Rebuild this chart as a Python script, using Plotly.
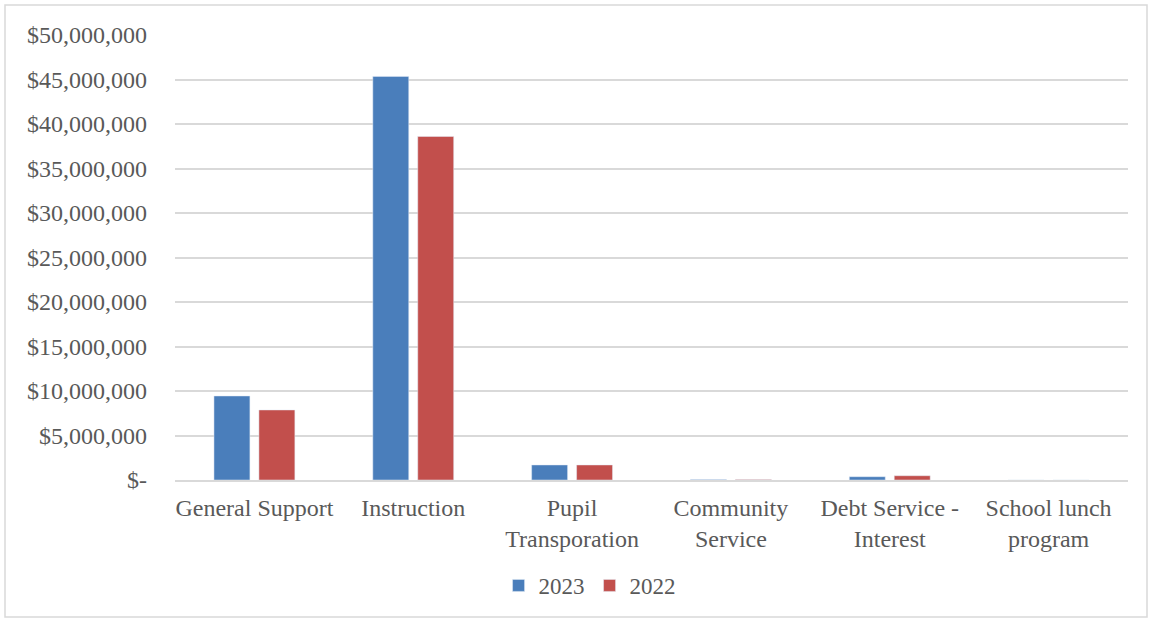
import plotly.graph_objects as go

categories = ["General Support", "Instruction", "Pupil<br>Transporation", "Community<br>Service",
              "Debt Service -<br>Interest", "School lunch<br>program"]
values_2023 = [9440000, 45350000, 1690000, 60000, 370000, 0]
values_2022 = [7870000, 38600000, 1690000, 50000, 480000, 0]
tick_vals = [0, 5e6, 10e6, 15e6, 20e6, 25e6, 30e6, 35e6, 40e6, 45e6, 50e6]
tick_text = ["$-", "$5,000,000", "$10,000,000", "$15,000,000", "$20,000,000", "$25,000,000",
             "$30,000,000", "$35,000,000", "$40,000,000", "$45,000,000", "$50,000,000"]

font = dict(family="Liberation Serif, Times New Roman, serif", size=24, color="#595959")

fig = go.Figure()
fig.add_trace(go.Bar(name="2023", x=categories, y=values_2023, marker_color="#4a7ebb"))
fig.add_trace(go.Bar(name="2022", x=categories, y=values_2022, marker_color="#c24f4c"))

L, R, T, B = 175, 21, 35, 139
W, H = 1149, 619
pw, ph = W - L - R, H - T - B

fig.update_layout(
    width=W, height=H,
    margin=dict(l=L, r=R, t=T, b=B),
    paper_bgcolor="white", plot_bgcolor="white",
    font=font,
    barmode="group", bargap=0.434, bargroupgap=0.2,
    showlegend=True,
    legend=dict(orientation="h", x=0.435, xanchor="center", y=-0.237, yanchor="middle",
                font=dict(family=font["family"], size=23, color=font["color"]),
                itemwidth=30, traceorder="normal"),
    xaxis=dict(showgrid=False, showline=True, linecolor="#d9d9d9", linewidth=1.5,
               tickfont=font, ticks="", ticklabelstandoff=5),
    yaxis=dict(range=[0, 50e6], tickvals=tick_vals, ticktext=tick_text, tickfont=font,
               showgrid=True, gridcolor="#d9d9d9", gridwidth=1.5, zeroline=False,
               showline=False, ticklabelstandoff=27),
    shapes=[dict(type="rect", xref="paper", yref="paper",
                 x0=(5 - L) / pw, x1=(1147 - L) / pw,
                 y0=(H - B - 617) / ph, y1=(H - B - 5) / ph,
                 line=dict(color="#d9d9d9", width=1.5), fillcolor="rgba(0,0,0,0)", layer="below")],
)

fig.write_html("out.html", config={"displayModeBar": False},
               post_script="document.body.style.margin='0px';document.body.style.overflow='hidden';")
